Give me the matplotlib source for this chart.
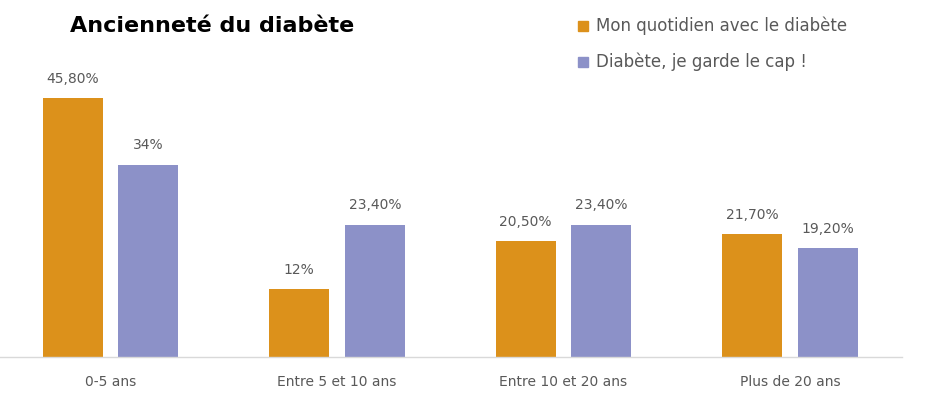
import numpy as np
import matplotlib.pyplot as plt
from matplotlib.patches import Rectangle

categories = ['0-5 ans', 'Entre 5 et 10 ans', 'Entre 10 et 20 ans', 'Plus de 20 ans']
series_names = ['Mon quotidien avec le diabète', 'Diabète, je garde le cap !']
quotidien = [45.8, 12.0, 20.5, 21.7]
garde_cap = [34.0, 23.4, 23.4, 19.2]
labels_quotidien = ['45,80%', '12%', '20,50%', '21,70%']
labels_garde_cap = ['34%', '23,40%', '23,40%', '19,20%']

orange = '#DC911B'
purple = '#8C91C8'
grey = '#595959'

fig = plt.figure(figsize=(9.37, 4.12), dpi=100)
ax = fig.add_axes([0, 55/412, 902/937, 282.7/412])

x = np.arange(len(categories))
w = 0.263
off = 0.1667
b1 = ax.bar(x - off, quotidien, w, color=orange)
b2 = ax.bar(x + off, garde_cap, w, color=purple)

for bars, labs in ((b1, labels_quotidien), (b2, labels_garde_cap)):
    for b, lab in zip(bars, labs):
        ax.annotate(lab, (b.get_x() + b.get_width() / 2, b.get_height()),
                    xytext=(0, 9), textcoords='offset points',
                    ha='center', va='bottom', fontsize=10, color=grey)

ax.set_xlim(-110.5/226.5, (902-110.5)/226.5)
ax.set_ylim(0, 50)
ax.set_xticks(x)
ax.set_xticklabels(categories, fontsize=10, color=grey)
ax.tick_params(axis='x', length=0, pad=13)
ax.set_yticks([])
for s in ['top', 'right', 'left']:
    ax.spines[s].set_visible(False)
ax.spines['bottom'].set_color('#D9D9D9')
ax.spines['bottom'].set_linewidth(1)

fig.text(70/937, 1 - 26/412, 'Ancienneté du diabète', fontsize=16, fontweight='bold',
         color='black', ha='left', va='center')

# legend
for i, (name, c) in enumerate(zip(series_names, [orange, purple])):
    yc = 1 - (26 + 36*i)/412
    fig.patches.append(Rectangle((578/937, yc - 5/412), 10/937, 10/412,
                                 transform=fig.transFigure, color=c))
    fig.text(596/937, yc, name, fontsize=12, color=grey, ha='left', va='center')

fig.savefig('out.png', dpi=100)
